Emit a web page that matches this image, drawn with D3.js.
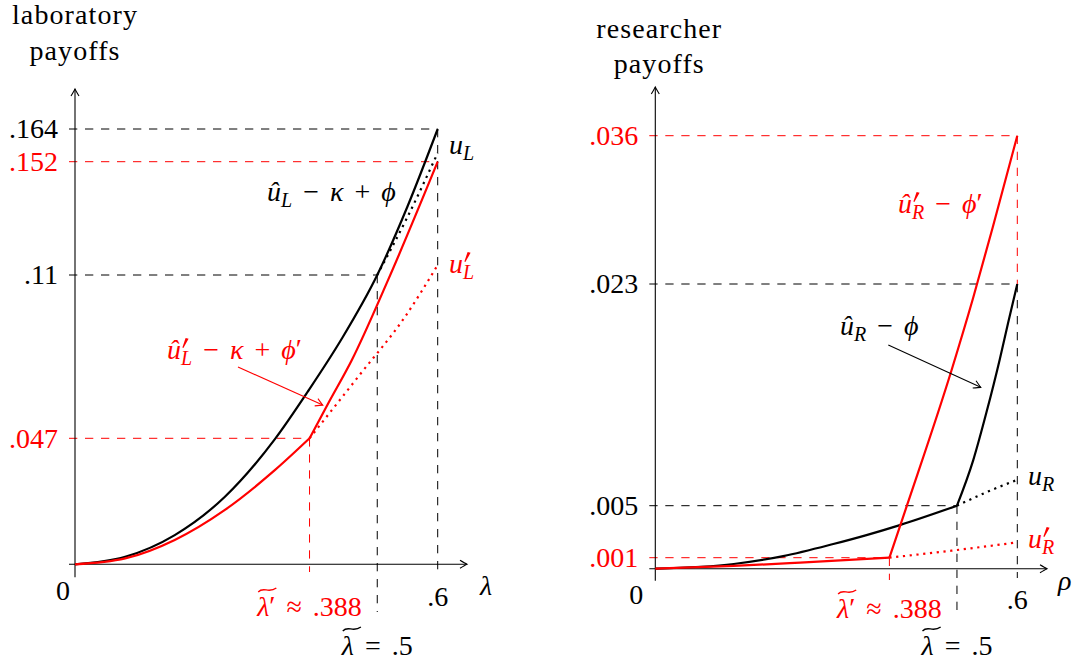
<!DOCTYPE html>
<html>
<head>
<meta charset="utf-8">
<script src="https://cdn.jsdelivr.net/npm/d3@7.9.0/dist/d3.min.js"></script>
<style>
  body { margin: 0; background: #fff; }
  svg text { font-family: "Liberation Serif", serif; font-size: 28px; }
  .title { letter-spacing: 1.1px; }
</style>
</head>
<body>
<svg id="chart" width="1077" height="664"></svg>
<script>
// ---- laboratory panel data (lambda, payoff) ----
const labUL       = [[0,0],[0.083,0.0028],[0.165,0.0109],[0.248,0.0252],[0.331,0.0468],[0.385,0.065],[0.441,0.0853],[0.5,0.11],[0.55,0.1354],[0.6,0.164]];
const labULdot    = [[0.5,0.11],[0.55,0.1315],[0.6,0.1552]];
const labRedLow   = [[0,0],[0.083,0.0022],[0.165,0.0091],[0.248,0.0203],[0.331,0.0352],[0.388,0.047]];
const labRedHigh  = [[0.388,0.047],[0.419,0.0605],[0.458,0.0772],[0.518,0.1081],[0.6,0.152]];
const labRedDot   = [[0.388,0.047],[0.47,0.0712],[0.546,0.0939],[0.6,0.1137]];
const labYTicks   = [0.164, 0.152, 0.11, 0.047];
const labYLabels  = [".164", ".152", ".11", ".047"];
const labGuideTo  = [0.6, 0.6, 0.5, 0.388];

// ---- researcher panel data (rho, payoff) ----
const resURlow    = [[0,0],[0.13,0.00043],[0.212,0.00112],[0.295,0.00205],[0.35,0.00274],[0.404,0.00349],[0.5,0.005]];
const resURhigh   = [[0.5,0.005],[0.527,0.0087],[0.549,0.0126],[0.571,0.0169],[0.585,0.0199],[0.6,0.023]];
const resURdot    = [[0.5,0.005],[0.549,0.0061],[0.6,0.0071]];
const resRedLow   = [[0,0],[0.13,0.00025],[0.24,0.00055],[0.388,0.001]];
const resRedHigh  = [[0.388,0.001],[0.417,0.005],[0.491,0.016],[0.527,0.0219],[0.56,0.0281],[0.6,0.036]];
const resRedDot   = [[0.388,0.001],[0.5,0.00159],[0.6,0.00218]];
const resYTicks   = [0.036, 0.023, 0.005, 0.001];
const resYLabels  = [".036", ".023", ".005", ".001"];
const resGuideTo  = [0.6, 0.6, 0.5, 0.388];

const svg = d3.select("#chart");
const defs = svg.append("defs");
["black", "red"].forEach(c => {
  defs.append("marker")
    .attr("id", "arr-" + c)
    .attr("viewBox", "-9 -6 11 12")
    .attr("refX", 0).attr("refY", 0)
    .attr("markerWidth", 11).attr("markerHeight", 12)
    .attr("markerUnits", "userSpaceOnUse")
    .attr("orient", "auto")
    .append("path")
    .attr("d", "M-7,-4 Q-2,-1 0,0 Q-2,1 -7,4")
    .attr("fill", "none")
    .attr("stroke", c)
    .attr("stroke-width", 1.1);
});

// math-ish text: parts = [[string, kind]]
// kinds: i italic, r roman, o operator (spaced), p prime, s subscript,
//        ps subscript with a prime drawn above it, t italic with wide tilde
function mathText(g, x, y, parts, color, anchor) {
  color = color || "black";
  const t = g.append("text")
    .attr("x", x).attr("y", y)
    .attr("fill", color)
    .attr("text-anchor", anchor || "start");
  let shift = 0, pos = 0, pad = 0;
  const tildes = [], primes = [];
  parts.forEach(([s, k]) => {
    const ts = t.append("tspan").text(s);
    let target = 0, dx = pad;
    pad = 0;
    if (k === "i" || k === "t") ts.attr("font-style", "italic");
    if (k === "t") tildes.push(pos);
    if (k === "o") { dx += 11; pad = 11; }
    if (k === "s" || k === "ps") {
      ts.attr("font-style", "italic").attr("font-size", "20px");
      target = 6;
      if (k === "ps") primes.push(pos);
    }
    if (k === "p") target = -1;
    if (dx) ts.attr("dx", dx);
    if (target !== shift) ts.attr("dy", target - shift);
    shift = target;
    pos += s.length;
  });
  const node = t.node();
  tildes.forEach(ci => {
    const e = node.getExtentOfChar(ci);
    const x0 = e.x + 1, w = e.width + 6, y0 = y - 28;
    g.append("path")
      .attr("d", `M${x0},${y0 + 4} C${x0 + w * 0.3},${y0 - 2} ${x0 + w * 0.55},${y0 + 6} ${x0 + w},${y0}`)
      .attr("fill", "none").attr("stroke", color).attr("stroke-width", 1.3);
  });
  primes.forEach(ci => {
    const px = node.getStartPositionOfChar(ci).x + 1;
    g.append("path")
      .attr("d", `M${px + 3.6},${y - 21} L${px + 6.6},${y - 20.2} L${px + 1.4},${y - 11} L${px + 0.4},${y - 11.4} Z`)
      .attr("fill", color);
  });
  return t;
}

function panel(cfg) {
  const g = svg.append("g");
  const x = cfg.x, y = cfg.y;
  const line = d3.line().x(d => x(d[0])).y(d => y(d[1])).curve(d3.curveMonotoneX);
  const dash = "8.3 7.7";

  // horizontal guides
  cfg.ticks.forEach((v, i) => {
    g.append("line")
      .attr("x1", x(0) - 6).attr("x2", x(cfg.guideTo[i]))
      .attr("y1", y(v)).attr("y2", y(v))
      .attr("stroke", cfg.tickColors[i]).attr("stroke-width", 1)
      .attr("stroke-dasharray", dash);
  });
  // vertical guides (bottom ends given in pixels, below the axis)
  cfg.vguides.forEach(d => {
    g.append("line")
      .attr("x1", x(d.v)).attr("x2", x(d.v))
      .attr("y1", y(d.from)).attr("y2", d.px ? d.to : y(d.to))
      .attr("stroke", d.c).attr("stroke-width", 1)
      .attr("stroke-dasharray", dash);
  });

  // axes
  g.append("line")
    .attr("x1", x(0) - 6).attr("x2", cfg.xEnd)
    .attr("y1", y(0)).attr("y2", y(0))
    .attr("stroke", "black").attr("stroke-width", 1.1)
    .attr("marker-end", "url(#arr-black)");
  g.append("line")
    .attr("x1", x(0)).attr("x2", x(0))
    .attr("y1", y(0) + cfg.yBelow).attr("y2", cfg.yTop)
    .attr("stroke", "black").attr("stroke-width", 1.1)
    .attr("marker-end", "url(#arr-black)");

  // y tick labels through d3 axis
  const ax = g.append("g")
    .attr("transform", `translate(${x(0)},0)`)
    .call(d3.axisLeft(y).tickValues(cfg.ticks).tickFormat((d, i) => cfg.tickLabels[i]).tickSize(0).tickPadding(17));
  ax.select(".domain").remove();
  ax.attr("font-family", null).attr("font-size", null);
  ax.selectAll("text").attr("fill", (d, i) => cfg.tickColors[i]);

  // curves
  cfg.curves.forEach(c => {
    g.append("path")
      .datum(c.data)
      .attr("d", line)
      .attr("fill", "none")
      .attr("stroke", c.color)
      .attr("stroke-width", 2.2)
      .attr("stroke-dasharray", c.dotted ? "2.2 4.6" : null);
  });

  // annotation arrows
  cfg.arrows.forEach(a => {
    g.append("line")
      .attr("x1", x(a.from[0])).attr("y1", y(a.from[1]))
      .attr("x2", x(a.to[0])).attr("y2", y(a.to[1]))
      .attr("stroke", a.color).attr("stroke-width", 1.1)
      .attr("marker-end", `url(#arr-${a.color})`);
  });

  // titles
  cfg.title.forEach((s, i) => {
    g.append("text").attr("class", "title")
      .attr("x", x(0) + cfg.titleDx).attr("y", cfg.titleY[i])
      .attr("text-anchor", "middle").text(s);
  });

  // x labels
  const xl = cfg.xLab;
  mathText(g, x(0) + xl.zeroDx, xl.zeroY, [["0", "r"]], "black", "middle");
  mathText(g, x(0.6), xl.sixY, [[".6", "r"]], "black", "middle");
  mathText(g, x(0.388), xl.primeY, [["λ", "t"], ["′", "p"], ["≈", "o"], [".388", "r"]], "red", "middle");
  mathText(g, x(0.5), xl.halfY, [["λ", "t"], ["=", "o"], [".5", "r"]], "black", "middle");
  mathText(g, xl.varX, xl.varY, [[cfg.varName, "i"]], "black", "start");

  cfg.labels.forEach(l => mathText(g, l.x, l.y, l.parts, l.color, "start"));
}

panel({
  x: d3.scaleLinear().domain([0, 0.6]).range([75, 437.7]),
  y: d3.scaleLinear().domain([0, 0.047, 0.11, 0.152, 0.164]).range([564.3, 438.3, 275, 161.7, 129]),
  ticks: labYTicks, tickLabels: labYLabels, guideTo: labGuideTo,
  tickColors: ["black", "red", "black", "red"],
  vguides: [
    {v: 0.6, from: 0.164, to: 577, px: true, c: "black"},
    {v: 0.5, from: 0.11, to: 612, px: true, c: "black"},
    {v: 0.388, from: 0.047, to: 572, px: true, c: "red"}
  ],
  xEnd: 467, yTop: 89, yBelow: 13,
  curves: [
    {data: labULdot, color: "black", dotted: true},
    {data: labRedDot, color: "red", dotted: true},
    {data: labUL, color: "black"},
    {data: labRedLow, color: "red"},
    {data: labRedHigh, color: "red"}
  ],
  arrows: [{from: [0.2696, 0.0745], to: [0.4098, 0.0598], color: "red"}],
  title: ["laboratory", "payoffs"], titleY: [24, 60], titleDx: 0,
  varName: "λ",
  xLab: {zeroDx: -12, zeroY: 600, sixY: 606, primeY: 616, halfY: 655, varX: 480, varY: 595},
  labels: [
    {x: 449, y: 154, color: "black", parts: [["u", "i"], ["L", "s"]]},
    {x: 449, y: 273, color: "red", parts: [["u", "i"], ["L", "ps"]]},
    {x: 267, y: 201, color: "black", parts: [["û", "i"], ["L", "s"], ["−", "o"], ["κ", "i"], ["+", "o"], ["ϕ", "i"]]},
    {x: 167, y: 359, color: "red", parts: [["û", "i"], ["L", "ps"], ["−", "o"], ["κ", "i"], ["+", "o"], ["ϕ", "i"], ["′", "p"]]}
  ]
});

panel({
  x: d3.scaleLinear().domain([0, 0.6]).range([655.3, 1017.3]),
  y: d3.scaleLinear().domain([0, 0.001, 0.005, 0.023, 0.036]).range([568.7, 557.7, 505.7, 284, 135.7]),
  ticks: resYTicks, tickLabels: resYLabels, guideTo: resGuideTo,
  tickColors: ["red", "black", "black", "red"],
  vguides: [
    {v: 0.6, from: 0.036, to: 0.023, c: "red"},
    {v: 0.6, from: 0.023, to: 578, px: true, c: "black"},
    {v: 0.5, from: 0.005, to: 617, px: true, c: "black"},
    {v: 0.388, from: 0.001, to: 580, px: true, c: "red"}
  ],
  xEnd: 1047, yTop: 87, yBelow: 12,
  curves: [
    {data: resURdot, color: "black", dotted: true},
    {data: resRedDot, color: "red", dotted: true},
    {data: resURlow, color: "black"},
    {data: resURhigh, color: "black"},
    {data: resRedLow, color: "red"},
    {data: resRedHigh, color: "red"}
  ],
  arrows: [{from: [0.3862, 0.01805], to: [0.5394, 0.01461], color: "black"}],
  title: ["researcher", "payoffs"], titleY: [38, 73], titleDx: 4,
  varName: "ρ",
  xLab: {zeroDx: -19, zeroY: 604, sixY: 609, primeY: 618, halfY: 655, varX: 1058, varY: 590},
  labels: [
    {x: 1028, y: 485, color: "black", parts: [["u", "i"], ["R", "s"]]},
    {x: 1028, y: 548, color: "red", parts: [["u", "i"], ["R", "ps"]]},
    {x: 840, y: 335, color: "black", parts: [["û", "i"], ["R", "s"], ["−", "o"], ["ϕ", "i"]]},
    {x: 898, y: 213, color: "red", parts: [["û", "i"], ["R", "ps"], ["−", "o"], ["ϕ", "i"], ["′", "p"]]}
  ]
});
</script>
</body>
</html>
